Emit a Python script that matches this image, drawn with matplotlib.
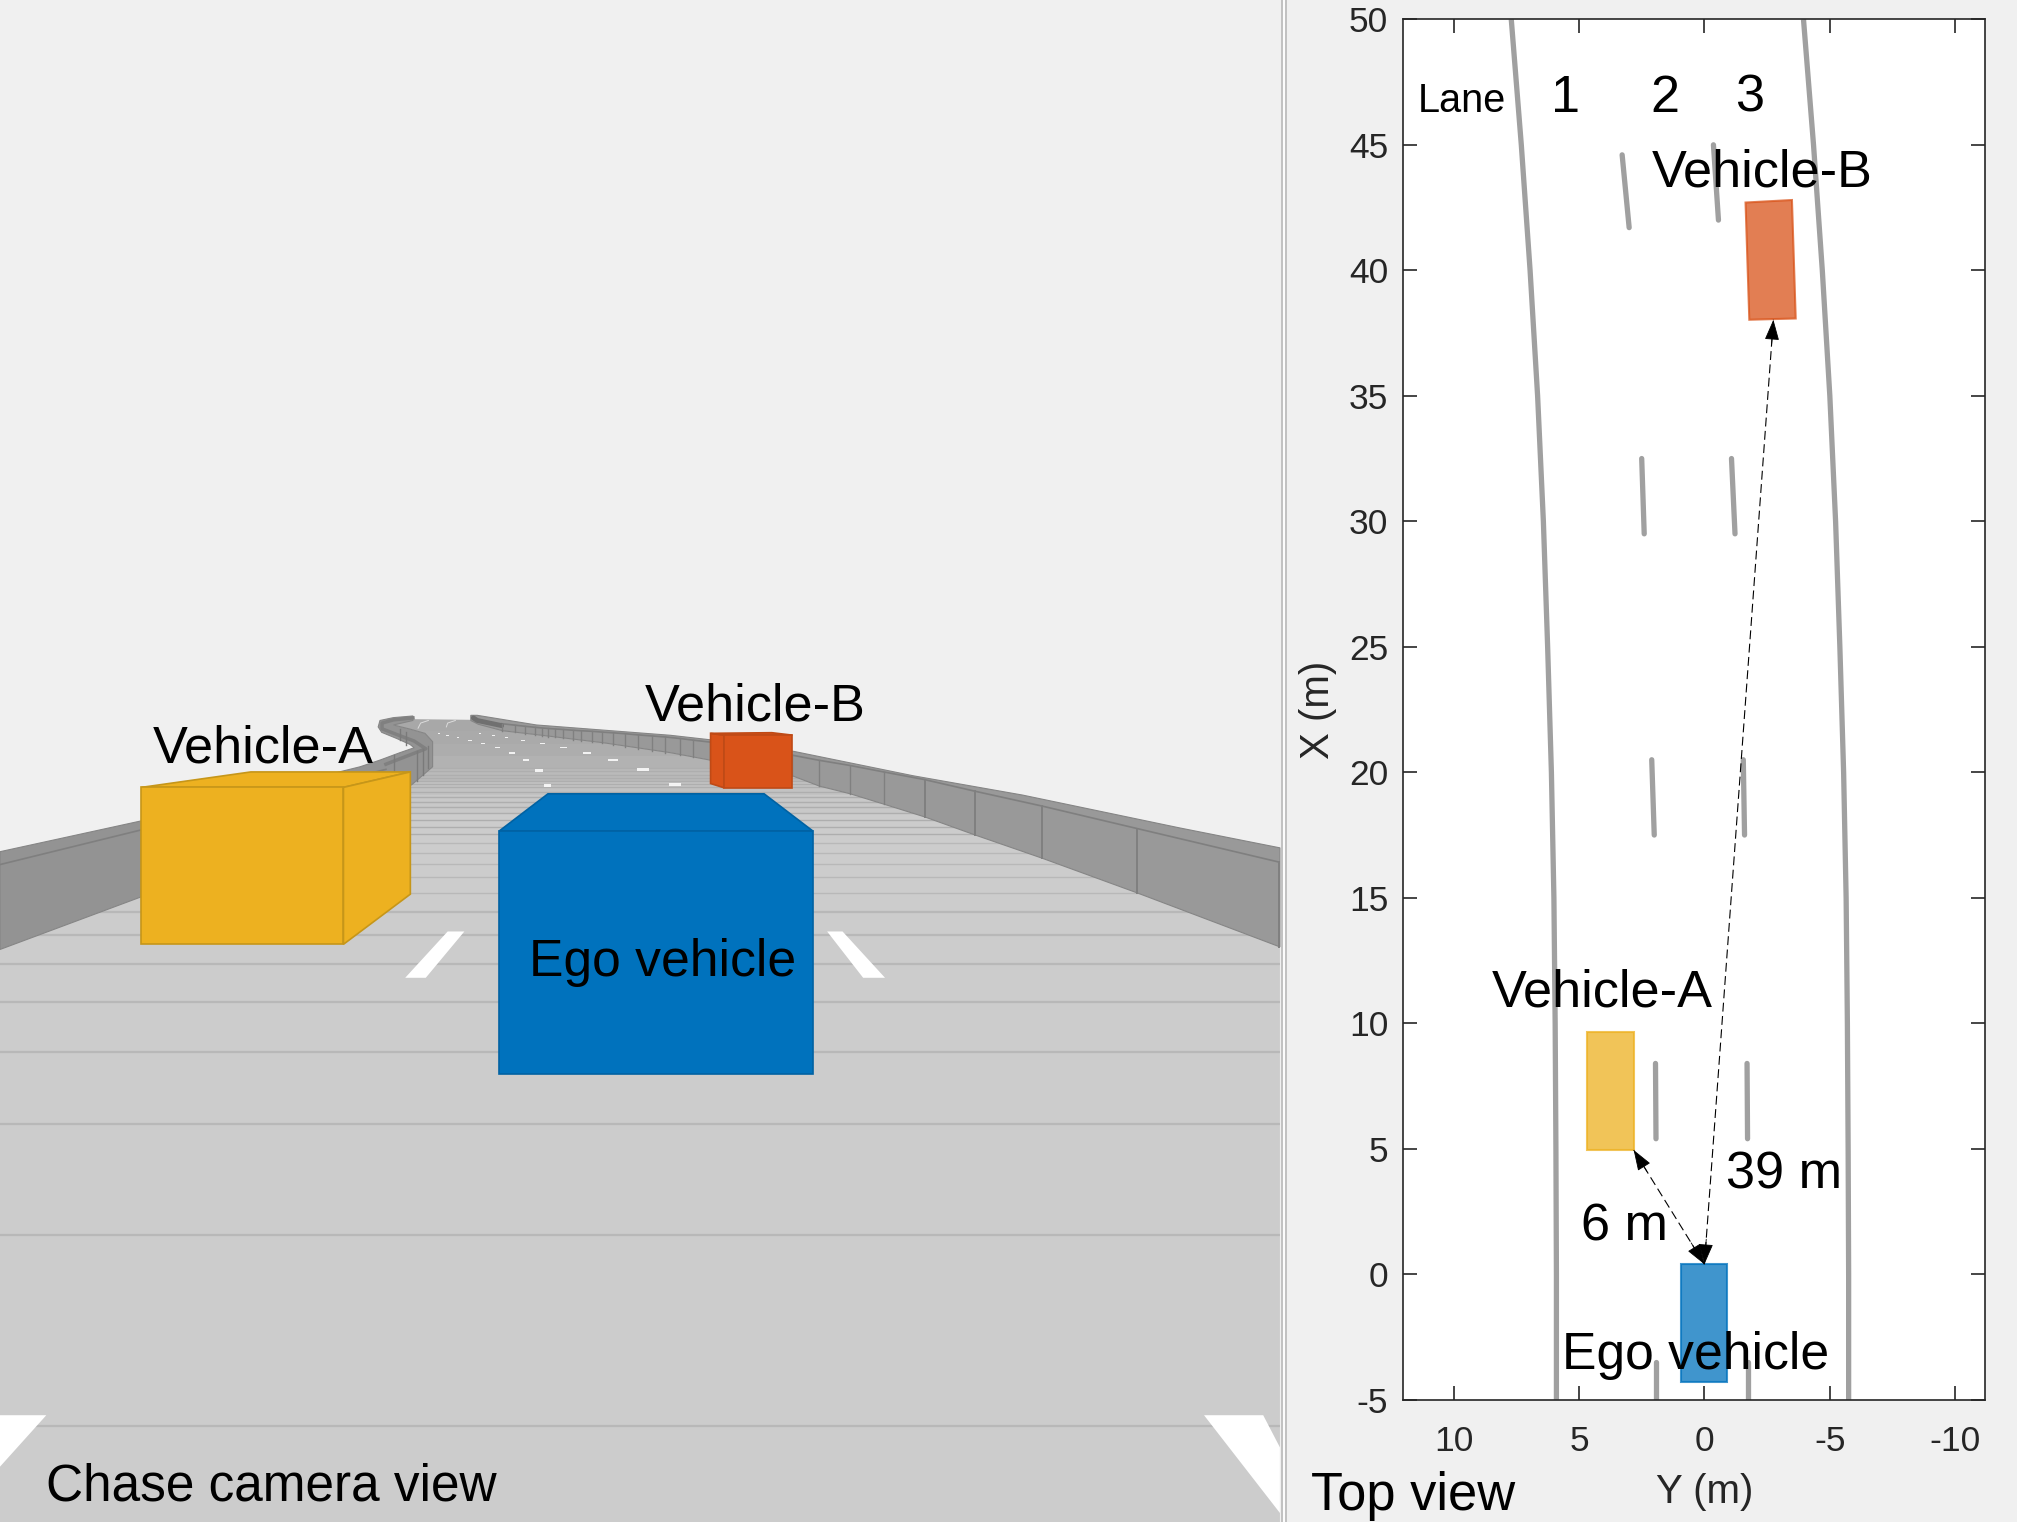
import numpy as np
import matplotlib
matplotlib.use('Agg')
import matplotlib.pyplot as plt
from matplotlib.patches import Polygon, Rectangle

plt.rcParams['font.family'] = ['Liberation Sans', 'DejaVu Sans']
plt.rcParams['axes.unicode_minus'] = False

W, H = 1568.0, 1183.0

road_outline = [(0, 738), (110, 697), (267, 622), (320, 610), (336.3, 596), (336.3, 576.5), (330.4, 570), (318.7, 566.7),
                (305.8, 563.5), (308, 559), (323, 559), (367, 559.5), (372, 562), (391, 568), (417, 571), (469, 577.3),
                (521, 585), (552, 590.8), (616, 603), (637, 611), (661, 617),
                (687, 625), (719, 635), (758, 649), (810, 667), (884, 694), (995, 736), (995, 1183), (0, 1183)]
road_band_y = [556, 568, 578, 588, 598, 608, 618, 632, 1183]
road_band_grey = ['#a8a8a8', '#aaaaaa', '#adadad', '#b2b2b2', '#bababa', '#c2c2c2', '#c8c8c8', '#cccccc']
road_seam_y = [597, 599.5, 602, 604.5, 607, 609.5, 612, 615.5, 619.3, 623, 627.6, 632, 637.5, 642.6, 648.4, 655, 663,
               671.7, 681.5, 694, 708.7, 727, 749, 779, 818, 874, 960, 1108]

# right hand barrier, posts from far to near
post_x = [390, 400, 408, 416, 421, 426, 431.5, 438, 445.7, 452, 460, 467.7, 476.8, 486, 496, 506.6, 517, 528.6, 539, 552,
          616, 637, 661, 687, 719, 758, 810, 884, 994]
post_top = [562.5, 563.6, 564.5, 565.3, 565.8, 566.2, 566.6, 567, 567.6, 568, 568.4, 569, 569.6, 570.3, 571.2, 572, 572.8,
            574, 575.3, 576.8, 587, 591, 595, 600, 606, 615, 626.5, 644, 670]
post_bot = [568, 569.2, 570.2, 571, 571.8, 572.5, 573.2, 574, 575, 575.8, 576.6, 577.3, 578.8, 580.3, 581.8, 583.5, 585,
            586.8, 588.6, 590.8, 603, 611, 617, 625, 635, 649, 667, 694, 736]
barrier_r_outer = [(366, 556), (371, 556), (417, 563.5), (469, 567.5), (521, 571.5), (552, 575), (617, 584), (710, 603), (795, 618),
                   (917, 643.5), (995, 659)]
barrier_r_end = [(995, 736), (884, 694), (810, 667), (758, 649), (719, 635), (687, 625), (661, 617), (637, 611),
                 (616, 603), (552, 590.8), (521, 585), (469, 577.3), (417, 571), (391, 568), (372, 563), (366, 560)]

barrier_l = [(321, 556.5), (305.8, 557.8), (295.4, 560), (294, 565), (296.7, 569.2), (308.4, 574), (318.7, 578.6), (322, 581.2),
             (311, 585), (295.4, 590.8), (279.9, 596), (110, 638), (0, 662), (0, 738), (110, 697), (267, 622), (320, 610),
             (336.3, 596), (336.3, 576.5), (330.4, 570), (318.7, 566.7), (305.8, 563.5), (321, 560)]
barrier_l_cap = [(321, 558), (306, 559.5), (297, 562), (297, 566.5), (310, 571.5), (322, 576), (331, 582), (300, 594)]
barrier_l_inner = [(0, 672), (110, 645), (300, 598)]
post_l_x = [110, 306, 311, 316, 324, 329, 333]
post_l_top = [645, 587, 567, 569, 584, 582, 580]
post_l_bot = [697, 613, 575, 579, 607, 602, 597]

dash_near = [[(315, 760), (331, 760), (361, 724), (348, 724)],
             [(643, 724), (655, 724), (688, 760), (671, 760)],
             [(0, 1100), (36, 1100), (0, 1140)],
             [(936, 1100), (982, 1100), (995, 1125), (995, 1176)]]
dash_far_x = [425.5, 419, 409, 398, 386.6, 375.7, 365.4, 356, 347.7, 341,
              524.7, 500, 476.8, 456.6, 437.9, 421.8, 406.8, 393.9, 383.5, 373]
dash_far_y = [610.3, 598.6, 590.8, 585.1, 581.2, 577.9, 575.3, 573.2, 571.7, 570,
              609.5, 598, 590.8, 585.1, 581.2, 577.9, 575.3, 573.2, 571.4, 570]
dash_far_w = [5, 6, 5, 4, 3.5, 3, 2.5, 2, 2, 1.5, 10, 9, 8, 6, 5, 4, 3, 2.5, 2, 1.5]
dash_far_h = [2.6, 2.2, 1.4, 1.2, 1, 0.9, 0.8, 0.7, 0.6, 0.6, 2.4, 2, 1.4, 1.2, 1, 0.9, 0.8, 0.7, 0.6, 0.6]
far_arcs = [[(325, 566), (327, 562), (333, 560)], [(347, 565), (348, 562), (354, 560)]]

box_a = dict(front=[(110, 612), (267, 612), (267, 734), (110, 734)],
             top=[(110, 612), (195, 600), (319, 600), (267, 612)],
             side=[(267, 612), (319, 600), (319, 695), (267, 734)])
box_ego = dict(front=[(388, 646), (632, 646), (632, 835), (388, 835)],
               top=[(388, 646), (426, 617), (594, 617), (632, 646)])
box_b = dict(side=[(552.4, 570), (562.8, 571.4), (562.8, 612.3), (552.4, 609)],
             top=[(552.4, 570), (600, 569.5), (616, 571.4), (562.8, 571.4)],
             front=[(562.8, 571.4), (615.9, 571.4), (615.9, 612.3), (562.8, 612.3)])

# top view, metres
lane_x = [50, 45, 40, 35, 30, 25, 20, 15, 10, 5, 0, -5]
edge_left = [7.7, 7.3, 6.95, 6.65, 6.42, 6.25, 6.1, 6.0, 5.95, 5.92, 5.9, 5.9]
edge_right = [-3.95, -4.35, -4.7, -5.0, -5.23, -5.4, -5.55, -5.65, -5.7, -5.73, -5.75, -5.75]
dash_a_x = [(44.6, 41.7), (32.5, 29.5), (20.5, 17.5), (8.4, 5.4), (-3.5, -5)]
dash_a_y = [(3.28, 3.0), (2.5, 2.4), (2.1, 2.0), (1.95, 1.93), (1.93, 1.93)]
dash_b_x = [(45.0, 42.0), (32.5, 29.5), (20.5, 17.5), (8.4, 5.4), (-3.5, -5)]
dash_b_y = [(-0.36, -0.56), (-1.08, -1.22), (-1.55, -1.6), (-1.7, -1.72), (-1.75, -1.75)]

ego_y = [0.92, -0.92, -0.92, 0.92]
ego_x = [0.4, 0.4, -4.3, -4.3]
veh_a_y = [4.67, 2.82, 2.82, 4.67]
veh_a_x = [9.65, 9.65, 4.95, 4.95]
veh_b_y = [-1.64, -3.49, -3.64, -1.79]
veh_b_x = [42.7, 42.8, 38.08, 38.03]

arrow_ego = (0.0, 0.4)
arrow_a = (2.82, 4.95)
arrow_b = (-2.75, 38.03)

xticks = [10, 5, 0, -5, -10]
yticks = [-5, 0, 5, 10, 15, 20, 25, 30, 35, 40, 45, 50]

fig = plt.figure(figsize=(20.17, 15.22), dpi=100, facecolor='#f0f0f0')

# chase camera view
ax = fig.add_axes([0, 0, 1, 1])
ax.set_xlim(0, W)
ax.set_ylim(H, 0)
ax.axis('off')

road = Polygon(road_outline, closed=True, fc='none', ec='none')
ax.add_patch(road)
for i in range(len(road_band_grey)):
    r = Rectangle((0, road_band_y[i]), 995, road_band_y[i + 1] - road_band_y[i], fc=road_band_grey[i], ec='none', zorder=1)
    ax.add_patch(r)
    r.set_clip_path(road)
for y in road_seam_y:
    c = '#aeaeae' if y < 650 else '#b8b8b8'
    l, = ax.plot([0, 995], [y, y], color=c, lw=1.0 if y < 700 else 1.6, zorder=2)
    l.set_clip_path(road)

ax.add_patch(Polygon(barrier_l, closed=True, fc='#939393', ec='#858585', lw=0.8, zorder=3))
ax.plot([p[0] for p in barrier_l_cap], [p[1] for p in barrier_l_cap], color='#808080', lw=2.5, zorder=3)
ax.plot([p[0] for p in barrier_l_inner], [p[1] for p in barrier_l_inner], color='#7f7f7f', lw=1.2, zorder=3)
for x, t, b in zip(post_l_x, post_l_top, post_l_bot):
    ax.plot([x, x], [t, b], color='#7a7a7a', lw=1, zorder=3)

ax.add_patch(Polygon(barrier_r_outer + barrier_r_end, closed=True, fc='#999999', ec='#858585', lw=0.8, zorder=3))
ax.plot(post_x, post_top, color='#7f7f7f', lw=1.2, zorder=4)
ax.plot([368, 371, 390], [558, 560, 564], color='#707070', lw=3.5, solid_capstyle='round', zorder=4)
for i, x in enumerate(post_x):
    ax.plot([x, x], [post_top[i], post_bot[i]], color='#808080', lw=1.4 if x > 700 else 1, zorder=4)

for d in dash_near:
    ax.add_patch(Polygon(d, closed=True, fc='white', ec='none', zorder=5))
for x, y, w, h in zip(dash_far_x, dash_far_y, dash_far_w, dash_far_h):
    ax.add_patch(Rectangle((x - w / 2, y - h / 2), w, h, fc='white', ec='none', alpha=0.85, zorder=5))
for a in far_arcs:
    ax.plot([p[0] for p in a], [p[1] for p in a], color='white', lw=0.7, alpha=0.6, zorder=5)

for part in ['top', 'side', 'front']:
    ax.add_patch(Polygon(box_a[part], closed=True, fc='#edb120', ec='#c69619', lw=1.2, zorder=6))
for part in ['side', 'top', 'front']:
    ax.add_patch(Polygon(box_b[part], closed=True, fc='#d95319', ec='#bf4a16', lw=1.2, zorder=7))
for part in ['top', 'front']:
    ax.add_patch(Polygon(box_ego[part], closed=True, fc='#0072bd', ec='#0062a3', lw=1.2, zorder=8))

# panel divider
ax.axvline(996.5, color='#b9b9b9', lw=1.2, zorder=9)
ax.axvline(998.5, color='white', lw=1.2, zorder=9)
ax.axvline(1000, color='#b9b9b9', lw=1.2, zorder=9)

# top view
tv = fig.add_axes([1091 / W, 1 - 1088 / H, (1543 - 1091) / W, (1088 - 15) / H], facecolor='white')
tv.set_xlim(12, -11.18)
tv.set_ylim(-5, 50)
tv.set_xticks(xticks)
tv.set_yticks(yticks)
tv.tick_params(direction='in', length=10, width=1.2, top=True, right=True, labelsize=25.5, colors='#262626')
tv.tick_params(axis='x', pad=18)
tv.tick_params(axis='y', pad=11)
for s in tv.spines.values():
    s.set_linewidth(1.2)
    s.set_color('#262626')

tv.plot(edge_left, lane_x, color='#a0a0a0', lw=3.8, solid_capstyle='butt', zorder=2)
tv.plot(edge_right, lane_x, color='#a0a0a0', lw=3.8, solid_capstyle='butt', zorder=2)
for xs, ys in zip(dash_a_x + dash_b_x, dash_a_y + dash_b_y):
    tv.plot(ys, xs, color='#a0a0a0', lw=3.8, solid_capstyle='round', zorder=2)

tv.fill(veh_a_y, veh_a_x, fc='#edb120', ec='#edb120', alpha=0.75, lw=1.5, zorder=3)
tv.fill(veh_b_y, veh_b_x, fc='#d95319', ec='#d95319', alpha=0.75, lw=1.5, zorder=3)
tv.fill(ego_y, ego_x, fc='#0072bd', ec='#0072bd', alpha=0.75, lw=1.5, zorder=3)

head = dict(arrowstyle='-|>,head_length=1.3,head_width=0.46', fc='black', ec='black', lw=0.6, shrinkA=0, shrinkB=0)
for target in [arrow_a, arrow_b]:
    tv.plot([arrow_ego[0], target[0]], [arrow_ego[1], target[1]], color='black', lw=0.8, ls=(0, (8, 4)), zorder=4)
    v = np.array(target) - np.array(arrow_ego)
    v = v / np.hypot(*v)
    tv.annotate('', xy=target, xytext=tuple(np.array(target) - 1.0 * v), arrowprops=head, zorder=5)
    tv.annotate('', xy=arrow_ego, xytext=tuple(np.array(arrow_ego) + 1.0 * v), arrowprops=head, zorder=5)


def label(x, y, s, size=37.6, **kw):
    fig.text(x / W, 1 - y / H, s, fontsize=size, va='baseline', color=kw.pop('color', 'black'), **kw)


label(119, 593, 'Vehicle-A')
label(501, 560, 'Vehicle-B')
label(411, 759, 'Ego vehicle', size=37.2)
label(36, 1166, 'Chase camera view', size=37)
label(1019, 1174, 'Top view', size=37.8)
label(1102, 87, 'Lane', size=28.5)
label(1206, 87, '1')
label(1283, 87, '2')
label(1349, 87, '3')
label(1284, 145, 'Vehicle-B')
label(1160, 782, 'Vehicle-A')
label(1342, 924, '39 m')
label(1229, 964, '6 m')
label(1214, 1064, 'Ego vehicle', size=37.2)
label(1325, 1168, 'Y (m)', size=29, color='#262626', ha='center')
label(1033, 552, 'X (m)', size=29, color='#262626', rotation=90, ha='center', rotation_mode='anchor')

fig.savefig('out.png', dpi=100, facecolor=fig.get_facecolor())
